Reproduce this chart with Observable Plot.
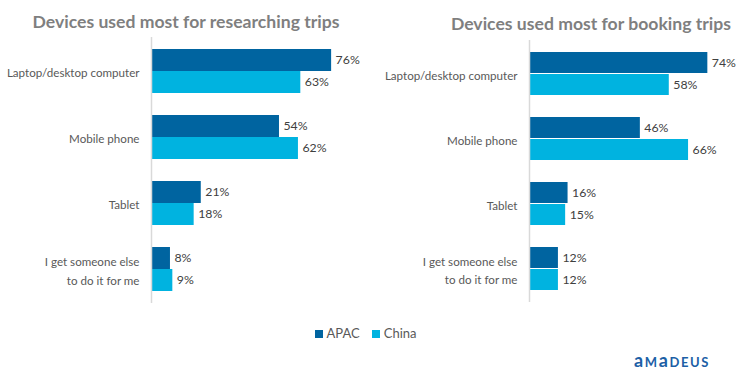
<!DOCTYPE html>
<html>
<head>
<meta charset="utf-8">
<script src="https://cdn.jsdelivr.net/npm/d3@7"></script>
<script src="https://cdn.jsdelivr.net/npm/@observablehq/plot@0.6"></script>
<style>
  html, body { margin: 0; padding: 0; background: #fff; }
  #root { position: relative; width: 743px; height: 383px; overflow: hidden; font-family: Lato, "Open Sans", sans-serif; }
  .title { position: absolute; font-weight: bold; color: #7f7f7f; font-size: 17.6px; white-space: nowrap; text-align: center; }
  .panel { position: absolute; }
  .legend { position: absolute; top: 325px; left: -6px; width: 743px; text-align: center; font-size: 13px; color: #595959; }
  .legend span.sw { display: inline-block; width: 8px; height: 8px; margin-right: 4px; vertical-align: 0px; }
  .legend span.item { margin: 0 6px; }
  .logo { position: absolute; left: 634px; top: 349px; font-size: 18px; font-weight: bold; color: #1d5fa6; letter-spacing: 1.6px; }
  .logo .sc { font-variant: small-caps; }
</style>
</head>
<body>
<div id="root"></div>
<script>
const categories = ["Laptop/desktop computer", "Mobile phone", "Tablet", "I get someone else\nto do it for me"];
const series = ["APAC", "China"];
const researchAPAC = [76, 54, 21, 8];
const researchChina = [63, 62, 18, 9];
const bookingAPAC = [74, 46, 16, 12];
const bookingChina = [58, 66, 15, 12];
const colors = ["#0064a0", "#00b3e0"];
const titles = ["Devices used most for researching trips", "Devices used most for booking trips"];

const root = document.getElementById("root");

function panel(apac, china, opts) {
  const rows = [];
  categories.forEach((c, i) => {
    rows.push({category: c, series: "APAC", value: apac[i]});
    rows.push({category: c, series: "China", value: china[i]});
  });
  const apacRows = rows.filter(d => d.series === "APAC");
  const chinaRows = rows.filter(d => d.series === "China");
  const half = opts.band / 2;
  const chart = Plot.plot({
    width: opts.width,
    height: 280,
    marginTop: opts.top,
    marginBottom: opts.bottom,
    marginLeft: opts.left,
    marginRight: 0,
    style: {fontFamily: "Lato, 'Open Sans', sans-serif", background: "transparent"},
    x: {domain: [0, 100], range: [opts.left, opts.left + opts.pxPer100], axis: null},
    y: {domain: categories, paddingInner: 0.34, paddingOuter: 0.17, axis: null},
    color: {domain: series, range: colors},
    marks: [
      Plot.barX(apacRows, {x: "value", y: "category", fill: "series", insetBottom: half}),
      Plot.barX(chinaRows, {x: "value", y: "category", fill: "series", insetTop: half}),
      Plot.ruleX([0], {stroke: "#d9d9d9", strokeWidth: 1.5}),
      Plot.text(apacRows, {x: "value", y: "category", text: d => d.value + "%", textAnchor: "start", dx: 4, dy: -half / 2, fill: "#404040", fontSize: 12.3}),
      Plot.text(chinaRows, {x: "value", y: "category", text: d => d.value + "%", textAnchor: "start", dx: 4, dy: half / 2, fill: "#404040", fontSize: 12.3}),
      Plot.text(categories, {x: 0, y: d => d, text: d => d, textAnchor: "end", dx: -12, fill: "#595959", fontSize: 11.6, lineHeight: 1.6})
    ]
  });
  const div = document.createElement("div");
  div.className = "panel";
  div.style.left = opts.x + "px";
  div.style.top = opts.y + "px";
  div.appendChild(chart);
  root.appendChild(div);

  const t = document.createElement("div");
  t.className = "title";
  t.textContent = opts.title;
  t.style.left = (opts.titleCenter - 200) + "px";
  t.style.width = "400px";
  t.style.top = opts.titleTop + "px";
  root.appendChild(t);
}

panel(researchAPAC, researchChina, {x: 0, y: 30, width: 372, left: 151, pxPer100: 237, top: 7, bottom: 7, band: 44, title: titles[0], titleCenter: 186, titleTop: 11});
panel(bookingAPAC, bookingChina, {x: 372, y: 30, width: 371, left: 157, pxPer100: 241, top: 10, bottom: 8, band: 44, title: titles[1], titleCenter: 591, titleTop: 13});

const legend = document.createElement("div");
legend.className = "legend";
series.forEach((s, i) => {
  const item = document.createElement("span");
  item.className = "item";
  const sw = document.createElement("span");
  sw.className = "sw";
  sw.style.background = colors[i];
  item.appendChild(sw);
  item.appendChild(document.createTextNode(s));
  legend.appendChild(item);
});
root.appendChild(legend);

const logo = document.createElement("div");
logo.className = "logo";
logo.innerHTML = 'a<span class="sc">m</span>a<span class="sc">deus</span>';
root.appendChild(logo);
</script>
</body>
</html>
